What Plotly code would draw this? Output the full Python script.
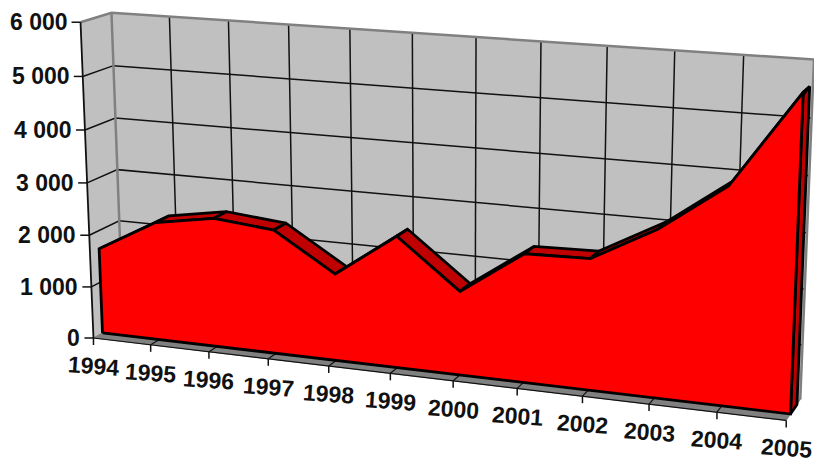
import numpy as np
import plotly.graph_objects as go

# ---- data ----
years = ["1994", "1995", "1996", "1997", "1998", "1999", "2000", "2001", "2002", "2003", "2004", "2005"]
values = [1650, 2270, 2460, 2350, 1640, 2460, 1560, 2370, 2400, 3040, 3900, 5590]
y_ticks = [0, 1000, 2000, 3000, 4000, 5000, 6000]
y_labels = ["0", "1 000", "2 000", "3 000", "4 000", "5 000", "6 000"]

# ---- camera of the 3-D box: (category, value, depth) -> screen ----
Y_MAX = 6000
anchor_box = [(0, 0, 0), (11, 0, 0), (0, 1, 0), (0, 0, 1), (0, 1, 1), (11, 1, 1), (11, 0, 1),
              (0, 0, .3), (11, 0, .3)]
anchor_px = [(93, 338), (787, 421), (81, 23), (124, 322), (111, 12), (814, 59.5), (800, 400),
             (102, 332), (790, 413)]
A, b = [], []
for (u, v, d), (px, py) in zip(anchor_box, anchor_px):
    A.append([u, v, d, 1, 0, 0, 0, 0, -px * u, -px * v, -px * d]); b.append(px)
    A.append([0, 0, 0, 0, u, v, d, 1, -py * u, -py * v, -py * d]); b.append(py)
P = np.append(np.linalg.lstsq(np.array(A, float), np.array(b, float), rcond=None)[0], 1).reshape(3, 4)


def project(u, val, d):
    w = P @ np.array([u, val / Y_MAX, d, 1.0])
    return w[0] / w[2], w[1] / w[2]


fig = go.Figure()


def path(points, color=None, fill=None, width=1.5):
    xy = [project(*p) for p in points]
    xs, ys = zip(*xy)
    fig.add_trace(go.Scatter(
        x=xs, y=ys, mode="lines" if width else "none",
        line=dict(color=color, width=width) if width else None,
        fill="toself" if fill else None, fillcolor=fill, hoverinfo="skip", showlegend=False))


WALL, EDGE, INK, FRONT, TOP = "#c0c0c0", "#808080", "#111111", "#ff0000", "#c00000"
n = len(years) - 1
D0, D1 = 0.3, 0.76

# walls and floor
path([(0, 0, 1), (n, 0, 1), (n, Y_MAX, 1), (0, Y_MAX, 1), (0, 0, 1)], fill=WALL, width=0)
path([(0, 0, 0), (0, 0, 1), (0, Y_MAX, 1), (0, Y_MAX, 0), (0, 0, 0)], fill=WALL, width=0)
path([(0, 0, 0), (n, 0, 0), (n, 0, 1), (0, 0, 1), (0, 0, 0)], color=EDGE, fill=EDGE, width=1)

# gridlines
for i in range(1, n):
    path([(i, 0, 1), (i, Y_MAX, 1)], color=INK, width=1.5)
    path([(i, 0, 0), (i, 0, 1)], color=INK, width=1.2)
for t in y_ticks[1:-1]:
    path([(0, t, 0), (0, t, 1), (n, t, 1)], color=INK, width=1.5)

# gray wall edges
path([(0, Y_MAX, 0), (0, Y_MAX, 1), (n, Y_MAX, 1), (n, 0, 1)], color=EDGE, width=2.5)
path([(0, 0, 1), (0, Y_MAX, 1)], color=EDGE, width=2.5)

# axes
path([(0, 0, 0), (0, Y_MAX, 0)], color=INK, width=1.8)
path([(0, 0, 0), (n, 0, 0)], color=INK, width=1.2)
for t, lab in zip(y_ticks, y_labels):
    x, y = project(0, t, 0)
    fig.add_shape(type="line", x0=x - 9, x1=x, y0=y, y1=y, line=dict(color=INK, width=1.5))
    fig.add_annotation(x=x - 11, y=y, text=f"<b>{lab}</b>", xanchor="right", yanchor="middle",
                       showarrow=False, font=dict(family="Liberation Sans", size=23, color="#111"))
for i, lab in enumerate(years):
    x, y = project(i, 0, 0)
    fig.add_shape(type="line", x0=x, x1=x, y0=y, y1=y + 7, line=dict(color=INK, width=1.5))
    fig.add_annotation(x=x, y=y + 28, text=f"<b>{lab}</b>", xanchor="center", yanchor="middle", textangle=4,
                       showarrow=False, font=dict(family="Liberation Sans", size=23, color="#111"))

# area: right side, top faces, front face
path([(n, 0, D0), (n, 0, D1), (n, values[n], D1), (n, values[n], D0), (n, 0, D0)],
     color="#000", fill=TOP, width=2.8)
for i in range(n):
    path([(i, values[i], D0), (i + 1, values[i + 1], D0), (i + 1, values[i + 1], D1),
          (i, values[i], D1), (i, values[i], D0)], color="#000", fill=TOP, width=2.8)
front = [(0, 0, D0)] + [(i, v, D0) for i, v in enumerate(values)] + [(n, 0, D0), (0, 0, D0)]
path(front, color="#000", fill=FRONT, width=2.8)

fig.update_layout(
    width=814, height=460, margin=dict(l=0, r=0, t=0, b=0),
    paper_bgcolor="white", plot_bgcolor="white", showlegend=False,
    xaxis=dict(range=[0, 814], visible=False),
    yaxis=dict(range=[460, 0], visible=False),
)
fig.write_html("out.html", config={"displayModeBar": False},
               post_script="document.body.style.margin='0';document.documentElement.style.overflow='hidden';")
